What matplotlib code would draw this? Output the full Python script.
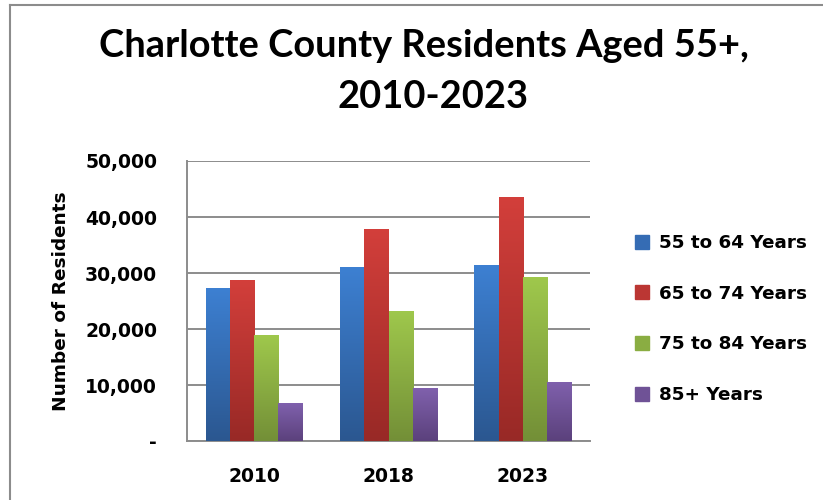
import matplotlib
matplotlib.use("Agg")
import matplotlib.pyplot as plt
import numpy as np
from matplotlib.colors import LinearSegmentedColormap
from matplotlib.patches import Rectangle
from matplotlib.ticker import FuncFormatter

years = ["2010", "2018", "2023"]
series_names = ["55 to 64 Years", "65 to 74 Years", "75 to 84 Years", "85+ Years"]
s55_64 = [27300, 31000, 31400]
s65_74 = [28800, 37900, 43600]
s75_84 = [18900, 23300, 29200]
s85p = [6700, 9400, 10600]
series_values = [s55_64, s65_74, s75_84, s85p]
yticks = [0, 10000, 20000, 30000, 40000, 50000]

top_cols = ["#3d80d2", "#d33f3b", "#9fc84c", "#8061ad"]
bot_cols = ["#2b5790", "#982926", "#738f37", "#5b417c"]
mid_cols = ["#356cb4", "#bb3633", "#8aad42", "#6f5296"]

fig = plt.figure(figsize=(8.23, 5.0), dpi=100)
ax = fig.add_axes([187/823, 1-441/500, (590-187)/823, (441-161)/500])

x = np.arange(len(years))
w = 0.18
for i, vals in enumerate(series_values):
    offs = (i - 1.5) * w
    bars = ax.bar(x + offs, vals, w, color=mid_cols[i], zorder=3, label=series_names[i])
    cmap = LinearSegmentedColormap.from_list("g%d" % i, [bot_cols[i], top_cols[i]])
    grad = np.linspace(0, 1, 256).reshape(-1, 1)
    for p in bars.patches:
        x0, y0 = p.get_x(), p.get_y()
        im = ax.imshow(grad, extent=[x0, x0 + p.get_width(), y0, y0 + p.get_height()],
                       origin="lower", aspect="auto", cmap=cmap, zorder=4)
        im.set_clip_path(p)

ax.set_xlim(-0.5, 2.5)
ax.set_ylim(0, 50000)
ax.set_yticks(yticks)
ax.yaxis.set_major_formatter(FuncFormatter(lambda v, p: "-" if v == 0 else f"{int(v):,}"))
ax.set_xticks(x)
ax.set_xticklabels(years)
ax.grid(axis="y", color="#8c8c8c", linewidth=1.4, zorder=0)
ax.tick_params(axis="both", length=0, labelsize=13.5)
ax.tick_params(axis="y", pad=21.5)
ax.tick_params(axis="x", pad=18.5)
for lab in ax.get_xticklabels() + ax.get_yticklabels():
    lab.set_fontweight("bold")
for s in ["top", "right"]:
    ax.spines[s].set_visible(False)
for s in ["left", "bottom"]:
    ax.spines[s].set_color("#8c8c8c")
    ax.spines[s].set_linewidth(1.4)
ax.set_ylabel("Number of Residents", fontsize=13.3, fontweight="bold", labelpad=11)

handles = [Rectangle((0, 0), 1, 1, color=c) for c in mid_cols]
leg = fig.legend(handles, series_names, loc="center left", bbox_to_anchor=(618/823, 1-319/500),
                 frameon=False, prop={"size": 13.2, "weight": "bold"}, handlelength=0.8,
                 handleheight=0.8, labelspacing=1.78, handletextpad=0.55)

fig.text(424/823, 1-46/500, "Charlotte County Residents Aged 55+,", ha="center", va="center",
         fontsize=27.4, fontweight="bold", family="Lato")
fig.text(433/823, 1-97/500, "2010-2023", ha="center", va="center",
         fontsize=27.4, fontweight="bold", family="Lato")

fig.add_artist(plt.Line2D([10/823, 10/823], [0, 1-5/500], transform=fig.transFigure, color="#8c8c8c", linewidth=1.5))
fig.add_artist(plt.Line2D([10/823, 1], [1-5/500, 1-5/500], transform=fig.transFigure, color="#8c8c8c", linewidth=1.5))

fig.savefig("out.png", dpi=100)
